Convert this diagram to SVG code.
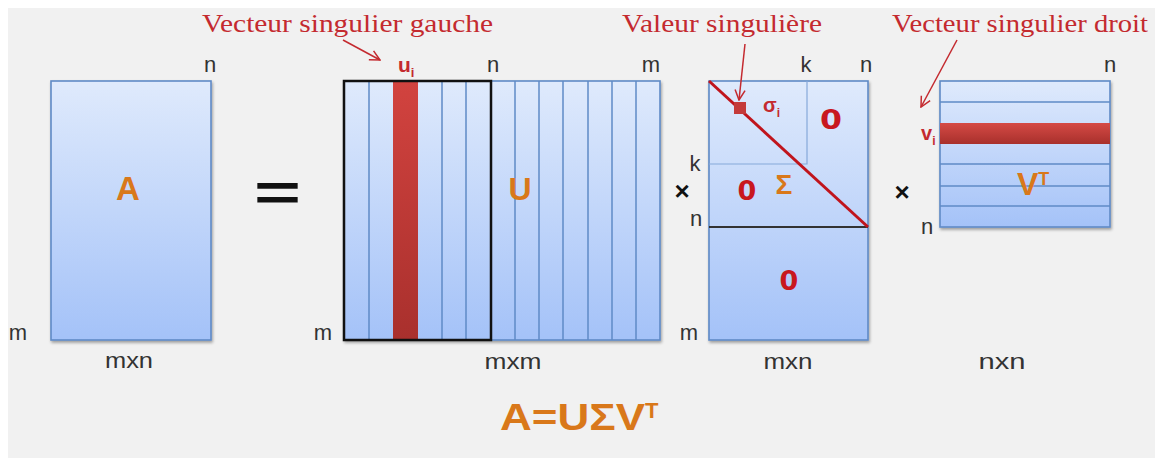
<svg xmlns="http://www.w3.org/2000/svg" width="1162" height="458" viewBox="0 0 1162 458">
<defs>
<style>
.mat{stroke:#5f8ac6;stroke-width:1.6;}
.ln{stroke:#5f8ac6;stroke-width:1.5;fill:none;}
.lnl{stroke:#86a9da;stroke-width:1.2;fill:none;}
.dim{font-family:"Liberation Sans",Arial,sans-serif;font-size:22px;fill:#333;text-anchor:middle;}
.lab{font-family:"Liberation Serif","Times New Roman",serif;font-size:26px;fill:#c42a2f;}
.org{font-family:"Liberation Sans",Arial,sans-serif;font-weight:bold;fill:#d9781a;}
.zero{font-family:"DejaVu Sans","Liberation Sans",sans-serif;font-weight:bold;font-size:27px;fill:#c8171e;text-anchor:middle;}
.red{font-family:"Liberation Sans",Arial,sans-serif;font-weight:bold;fill:#c42a2f;}
.op{font-family:"Liberation Sans",Arial,sans-serif;font-weight:bold;fill:#111;}
.arr{stroke:#c42a2f;stroke-width:1.5;fill:none;marker-end:url(#chev);}
</style>
<linearGradient id="blue" x1="0" y1="0" x2="0" y2="1">
<stop offset="0" stop-color="#dfeafc"/>
<stop offset="1" stop-color="#a4c2f8"/>
</linearGradient>
<linearGradient id="redv" x1="0" y1="0" x2="0" y2="1">
<stop offset="0" stop-color="#d2433f"/>
<stop offset="1" stop-color="#a9302d"/>
</linearGradient>
<linearGradient id="redh" x1="0" y1="0" x2="0" y2="1">
<stop offset="0" stop-color="#d54a45"/>
<stop offset="1" stop-color="#a8302c"/>
</linearGradient>
<filter id="sh" x="-10%" y="-10%" width="120%" height="125%">
<feGaussianBlur in="SourceAlpha" stdDeviation="1.5"/>
<feOffset dx="1" dy="2" result="b"/>
<feComponentTransfer><feFuncA type="linear" slope="0.35"/></feComponentTransfer>
<feMerge><feMergeNode/><feMergeNode in="SourceGraphic"/></feMerge>
</filter>
<marker id="chev" viewBox="0 0 12 12" refX="11" refY="6" markerWidth="12" markerHeight="12" markerUnits="userSpaceOnUse" orient="auto">
<path d="M1,1 L11,6 L1,11" fill="none" stroke="#c42a2f" stroke-width="1.5"/>
</marker>
</defs>
<rect x="0" y="0" width="1162" height="458" fill="#ffffff"/>
<rect x="8" y="8" width="1147" height="450" fill="#f1f1f1"/>

<g id="labels">
<text class="lab" x="202" y="32" textLength="291" lengthAdjust="spacingAndGlyphs">Vecteur singulier gauche</text>
<text class="lab" x="622" y="32" textLength="200" lengthAdjust="spacingAndGlyphs">Valeur singulière</text>
<text class="lab" x="892" y="32" textLength="256" lengthAdjust="spacingAndGlyphs">Vecteur singulier droit</text>
</g>

<g id="matrix-A">
<rect class="mat" x="51" y="81" width="160" height="259" fill="url(#blue)" filter="url(#sh)"/>
<text class="org" x="128" y="200" font-size="33" text-anchor="middle">A</text>
<text class="dim" x="210" y="72">n</text>
<text class="dim" x="18" y="340">m</text>
<text class="dim" x="129" y="368" textLength="48" lengthAdjust="spacingAndGlyphs">mxn</text>
</g>

<g id="equals">
<text class="op" x="254" y="210" font-size="52" textLength="47" lengthAdjust="spacingAndGlyphs">=</text>
</g>

<g id="matrix-U">
<rect class="mat" x="344" y="81" width="316" height="259" fill="url(#blue)" filter="url(#sh)"/>
<path class="ln" d="M369,81V340M442,81V340M466,81V340M515,81V340M539,81V340M563,81V340M588,81V340M612,81V340M636,81V340"/>
<rect x="393" y="81" width="25" height="259" fill="url(#redv)"/>
<rect x="344" y="81" width="147" height="259" fill="none" stroke="#111" stroke-width="2.5"/>
<text class="org" x="520" y="200" font-size="32" text-anchor="middle">U</text>
<text class="red" x="398" y="72" font-size="21">u<tspan font-size="13" dy="5">i</tspan></text>
<text class="dim" x="493" y="72">n</text>
<text class="dim" x="651" y="72">m</text>
<text class="dim" x="323" y="340">m</text>
<text class="dim" x="513" y="369" textLength="57" lengthAdjust="spacingAndGlyphs">mxm</text>
</g>

<g id="times-1">
<text class="op" x="682" y="200" font-size="26" text-anchor="middle">×</text>
</g>

<g id="matrix-Sigma">
<rect class="mat" x="709" y="81" width="159" height="259" fill="url(#blue)" filter="url(#sh)"/>
<path class="lnl" d="M807,81V164H709"/>
<path d="M709,227H868" stroke="#333" stroke-width="2"/>
<path d="M709,81L868,227" stroke="#c0141c" stroke-width="3"/>
<rect x="734" y="102" width="12" height="12" fill="#c43a3a"/>
<text class="red" x="763" y="112" font-size="20">σ<tspan font-size="12" dy="5">i</tspan></text>
<text class="zero" x="831" y="129" textLength="22" lengthAdjust="spacingAndGlyphs">0</text>
<text class="zero" x="747" y="200">0</text>
<text class="org" x="784" y="194" font-size="28" text-anchor="middle">Σ</text>
<text class="zero" x="789" y="290">0</text>
<text class="dim" x="806" y="72">k</text>
<text class="dim" x="866" y="72">n</text>
<text class="dim" x="695" y="171">k</text>
<text class="dim" x="696" y="226">n</text>
<text class="dim" x="689" y="340">m</text>
<text class="dim" x="788" y="369" textLength="49" lengthAdjust="spacingAndGlyphs">mxn</text>
</g>

<g id="times-2">
<text class="op" x="902" y="201" font-size="26" text-anchor="middle">×</text>
</g>

<g id="matrix-VT">
<rect class="mat" x="940" y="81" width="170" height="146" fill="url(#blue)" filter="url(#sh)"/>
<path class="ln" d="M940,102H1110M940,164H1110M940,186H1110M940,206H1110"/>
<rect x="940" y="123" width="170" height="21" fill="url(#redh)"/>
<text class="org" x="1017" y="195" font-size="32">V<tspan font-size="18" dy="-10">T</tspan></text>
<text class="red" x="921" y="140" font-size="20">v<tspan font-size="12" dy="5">i</tspan></text>
<text class="dim" x="1110" y="72">n</text>
<text class="dim" x="927" y="234">n</text>
<text class="dim" x="1002" y="369" textLength="47" lengthAdjust="spacingAndGlyphs">nxn</text>
</g>

<g id="formula">
<text class="org" x="500" y="430" font-size="36"><tspan textLength="145" lengthAdjust="spacingAndGlyphs">A=UΣV</tspan><tspan font-size="22" dy="-12">T</tspan></text>
</g>

<g id="connectors">
<path class="arr" d="M343,40L380,60"/>
<path class="arr" d="M745,44L739,100"/>
<path class="arr" d="M957,40L921,107"/>
</g>
</svg>
